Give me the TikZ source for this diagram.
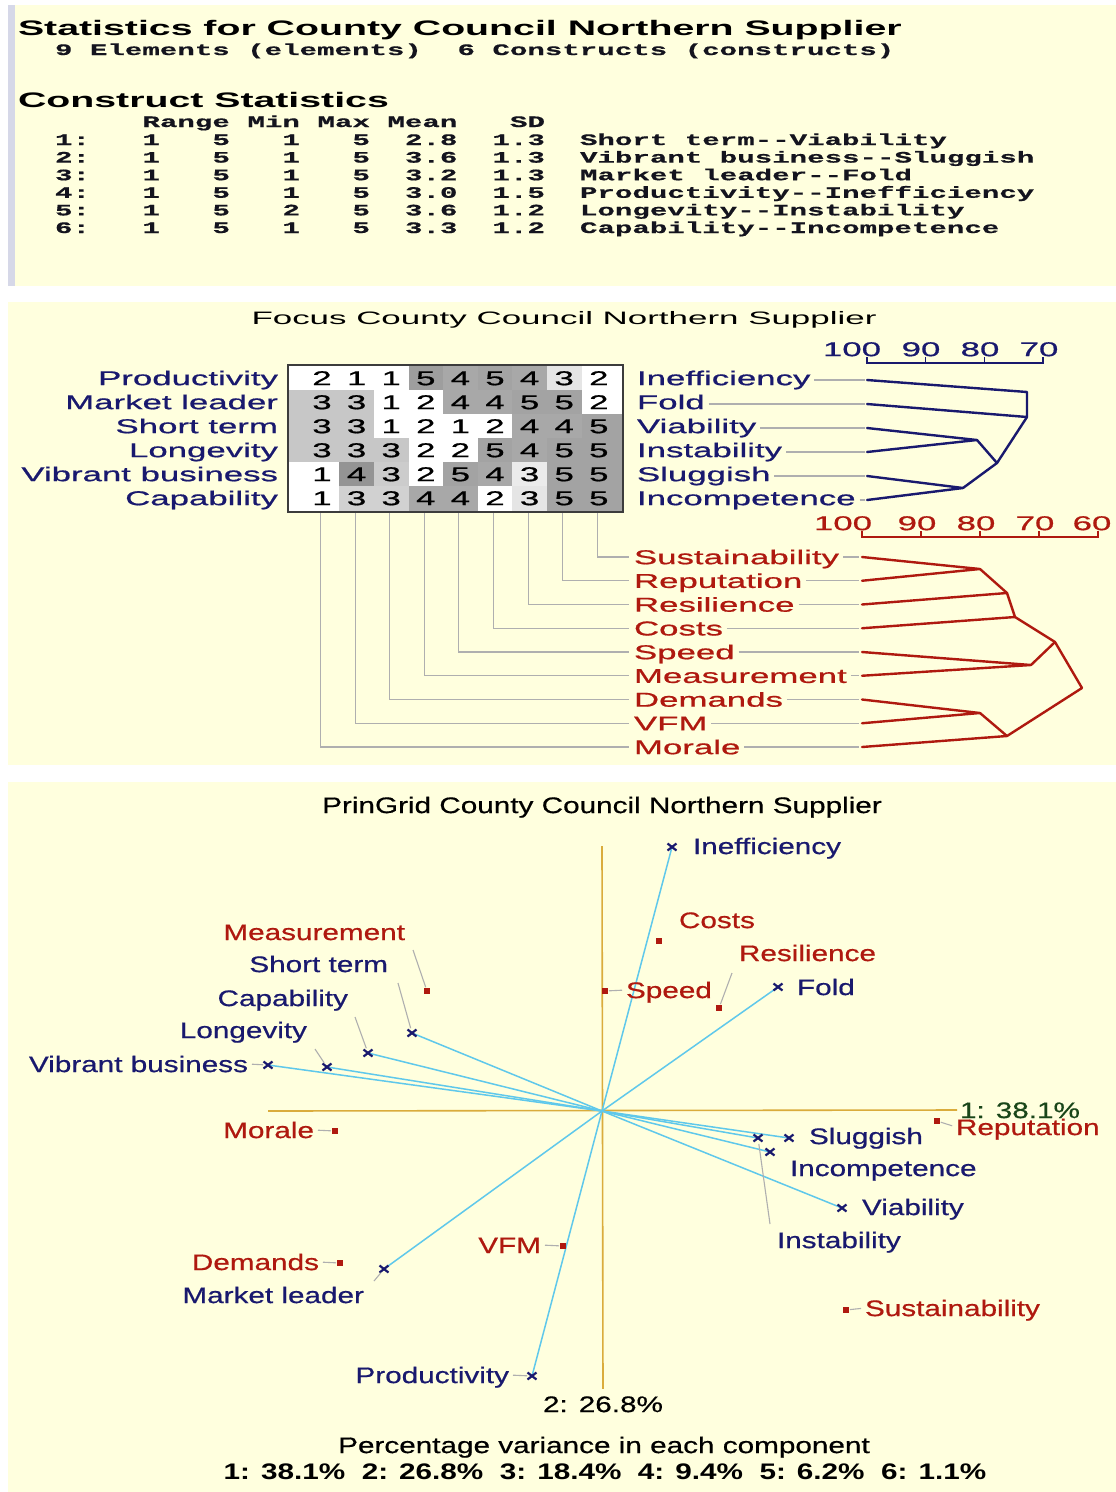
\documentclass[tikz,border=0pt]{standalone}
\usepackage{fontspec}
\usepackage{graphicx}
\usetikzlibrary{calc,shapes.misc}
\setmainfont{Liberation Sans}
\newfontfamily\headfnt{Liberation Sans}[FakeStretch=1.87]
\newfontfamily\monofnt{Liberation Mono}[FakeStretch=1.82,FakeBold=0.6]
\newfontfamily\focfnt{Liberation Sans}[FakeStretch=1.74,FakeBold=0.8]
\newfontfamily\prinfnt{Liberation Sans}[FakeStretch=1.32,FakeBold=0.6]
\newfontfamily\prinbold{Liberation Sans Bold}[FakeStretch=1.32]

\definecolor{panelbg}{RGB}{255,255,222}
\definecolor{stripe}{RGB}{214,216,232}
\definecolor{navy}{RGB}{25,25,110}
\definecolor{dred}{RGB}{175,25,15}
\definecolor{axgold}{RGB}{218,172,60}
\definecolor{vecblue}{RGB}{95,200,235}
\definecolor{leadgray}{RGB}{175,175,175}
\definecolor{gridline}{RGB}{60,60,60}
\definecolor{inkdark}{RGB}{20,20,30}
\definecolor{axgreen}{RGB}{25,70,25}

% stretch a text horizontally to a given width (in pt)
\newlength\fitlen
\newcommand\fitw[2]{\settowidth\fitlen{#2}\pgfmathsetmacro\fitratio{#1/\fitlen}\scalebox{\fitratio}[1]{#2}}

\begin{document}
\begin{tikzpicture}[x=1pt,y=-1pt,
  headtxt/.style={font=\headfnt\bfseries\fontsize{21}{25}\selectfont, text=black, inner sep=0pt, outer sep=0pt},
  monotxt/.style={font=\monofnt\bfseries\fontsize{16}{19}\selectfont, text=inkdark, inner sep=0pt, outer sep=0pt},
  focl/.style={font=\focfnt\fontsize{20}{24}\selectfont, inner sep=0pt, outer sep=0pt, text height=16.3pt, text depth=2pt},
  prinl/.style={font=\prinfnt\fontsize{22.5}{27}\selectfont, inner sep=0pt, outer sep=0pt, text height=18.1pt, text depth=2pt},
  leader/.style={draw=leadgray, line width=1.1pt},
  navyline/.style={draw=navy, line width=2.4pt, line cap=round, line join=round},
  redline/.style={draw=dred, line width=2.4pt, line cap=round, line join=round},
  vec/.style={draw=vecblue, line width=1.5pt},
  axisline/.style={draw=axgold, line width=1.6pt},
  xmark/.style={cross out, draw=navy, line width=2.2pt, minimum width=9pt, minimum height=7pt, inner sep=0pt, outer sep=0pt},
  emark/.style={fill=dred, minimum size=6pt, inner sep=0pt, outer sep=0pt},
]
\useasboundingbox (0,0) rectangle (1116,1492);

% ---------- panel backgrounds
\fill[white] (0,0) rectangle (1116,1492);
\fill[panelbg] (8,5) rectangle (1116,286);
\fill[stripe] (8,5) rectangle (15,286);
\fill[panelbg] (8,302) rectangle (1116,765);
\fill[panelbg] (8,782) rectangle (1116,1492);

% ---------- statistics panel
\node[headtxt,anchor=base west] (stattitle) at (18,35) {Statistics for County Council Northern Supplier};
\node[monotxt,anchor=base west] (nelem) at (55,55) {9 Elements (elements)};
\node[monotxt,anchor=base west] (ncons) at (457.5,55) {6 Constructs (constructs)};
\node[headtxt,anchor=base west] (cstitle) at (18,107) {Construct Statistics};
\foreach \t/\cc in {Range/7,Min/13,Max/17,Mean/21,SD/28}
  \node[monotxt,anchor=base west] (hd-\cc) at ({20+17.5*\cc},127) {\t};
\foreach \va/\vb/\vc/\vd/\vm/\vs/\vl [count=\i] in {
  1/5/1/5/2.8/1.3/{Short term-{}-Viability},
  1/5/1/5/3.6/1.3/{Vibrant business-{}-Sluggish},
  1/5/1/5/3.2/1.3/{Market leader-{}-Fold},
  1/5/1/5/3.0/1.5/{Productivity-{}-Inefficiency},
  1/5/2/5/3.6/1.2/{Longevity-{}-Instability},
  1/5/1/5/3.3/1.2/{Capability-{}-Incompetence}}
{
  \pgfmathsetmacro\yy{145+17.6*(\i-1)}
  \node[monotxt,anchor=base west] (sn-\i) at (55,\yy) {\i:};
  \node[monotxt,anchor=base west] (sa-\i) at (142.5,\yy) {\va};
  \node[monotxt,anchor=base west] (sb-\i) at (212.5,\yy) {\vb};
  \node[monotxt,anchor=base west] (sc-\i) at (282.5,\yy) {\vc};
  \node[monotxt,anchor=base west] (sd-\i) at (352.5,\yy) {\vd};
  \node[monotxt,anchor=base west] (sm-\i) at (405,\yy) {\vm};
  \node[monotxt,anchor=base west] (ss-\i) at (492.5,\yy) {\vs};
  \node[monotxt,anchor=base west] (sl-\i) at (580,\yy) {\vl};
}

% ---------- focus panel
\node[font=\fontsize{18}{22}\selectfont, inner sep=0pt, text=black] (foctitle) at (564,320)
  {\fitw{625}{Focus County Council Northern Supplier}};

\foreach \rowdata [count=\i] in {
 {2/0,1/0,1/0,5/38,4/34,5/36,4/34,3/10,2/0},
 {3/22,3/22,1/0,2/0,4/34,4/34,5/36,5/36,2/0},
 {3/22,3/22,1/0,2/0,1/0,2/0,4/34,4/34,5/36},
 {3/22,3/22,3/22,2/0,2/0,5/36,4/34,5/36,5/36},
 {1/0,4/42,3/20,2/0,5/36,4/34,3/8,5/36,5/36},
 {1/0,3/18,3/18,4/34,4/34,2/0,3/10,5/36,5/36}}
{
  \foreach \v/\sh [count=\j] in \rowdata {
    \pgfmathsetmacro\xa{{288,339.3,373.9,408.5,443.1,477.7,512.3,546.9,581.5,623}[\j-1]}
    \pgfmathsetmacro\xb{{288,339.3,373.9,408.5,443.1,477.7,512.3,546.9,581.5,623}[\j]}
    \pgfmathsetmacro\ya{{365,390,414,438,462,486,512}[\i-1]}
    \pgfmathsetmacro\yb{{365,390,414,438,462,486,512}[\i]}
    \pgfmathsetmacro\xc{322+34.6*(\j-1)}
    \pgfmathsetmacro\yc{378+24*(\i-1)}
    \fill[black!\sh] (\xa,\ya) rectangle (\xb,\yb);
    \node[focl,text=black] (cell-\i-\j) at (\xc,\yc) {\v};
  }
}
\draw[gridline, line width=1.8pt] (288,365) rectangle (623,512);

\foreach \t [count=\i] in {Productivity,Market leader,Short term,Longevity,Vibrant business,Capability}
  \node[focl,text=navy,anchor=east] (cl-\i) at (278,{378+24*(\i-1)}) {\t};
\foreach \t [count=\i] in {Inefficiency,Fold,Viability,Instability,Sluggish,Incompetence}
  \node[focl,text=navy,anchor=west] (cr-\i) at (637,{378+24*(\i-1)}) {\t};

% construct tree
\foreach \i in {1,...,6} \coordinate (tl-\i) at (867,{380+24*(\i-1)});
\foreach \i in {1,...,6} \draw[leader,shorten <=4pt,shorten >=2pt] (cr-\i.east |- tl-\i) -- (tl-\i);
\coordinate (tdA) at (1027,392);
\coordinate (tdB) at (1027,417);
\coordinate (tdVI) at (977,440);
\coordinate (tdSI) at (963,488);
\coordinate (tdM) at (997,463);
\draw[navyline] (tl-1) -- (tdA) -- (tdB) -- (tl-2);
\draw[navyline] (tl-3) -- (tdVI) -- (tl-4);
\draw[navyline] (tl-5) -- (tdSI) -- (tl-6);
\draw[navyline] (tdVI) -- (tdM) -- (tdSI);
\draw[navyline] (tdM) -- (tdB);
% construct scale
\draw[navy, line width=1.5pt] (867,357) -- (867,363) -- (1043,363) -- (1043,357);
\draw[navy, line width=1.5pt] (925.7,363) -- (925.7,357) (984.3,363) -- (984.3,357);
\node[focl,text=navy] (tn100) at (852,349) {100};
\node[focl,text=navy] (tn90) at (921,349) {90};
\node[focl,text=navy] (tn80) at (980,349) {80};
\node[focl,text=navy] (tn70) at (1039,349) {70};

% element labels and links to the grid columns
\foreach \t [count=\k] in {Sustainability,Reputation,Resilience,Costs,Speed,Measurement,Demands,VFM,Morale}
{
  \pgfmathsetmacro\ye{557+23.75*(\k-1)}
  \pgfmathsetmacro\xg{320.5+34.6*(9-\k)}
  \node[focl,text=dred,anchor=west] (el-\k) at (634,\ye) {\t};
  \coordinate (gb-\k) at (\xg,513);
  \coordinate (bl-\k) at (862,\ye);
  \draw[leader,shorten >=5pt] (gb-\k) |- (el-\k.west);
  \draw[leader,shorten <=4pt,shorten >=3pt] (el-\k.east |- bl-\k) -- (bl-\k);
}
% element tree
\coordinate (bA) at (980,569);
\coordinate (bB) at (1007,593);
\coordinate (bC) at (1015,617);
\coordinate (bD) at (1031,665);
\coordinate (bE) at (1055,642);
\coordinate (bF) at (980,713);
\coordinate (bG) at (1007,736);
\coordinate (bR) at (1082,688);
\draw[redline] (bl-1) -- (bA) -- (bl-2);
\draw[redline] (bA) -- (bB) -- (bC) -- (bE) -- (bR) -- (bG) -- (bF);
\draw[redline] (bl-3) -- (bB);
\draw[redline] (bl-4) -- (bC);
\draw[redline] (bl-5) -- (bD) -- (bl-6);
\draw[redline] (bD) -- (bE);
\draw[redline] (bl-7) -- (bF) -- (bl-8);
\draw[redline] (bl-9) -- (bG);
% element scale
\draw[dred, line width=1.5pt] (862,531) -- (862,537) -- (1098,537) -- (1098,531);
\draw[dred, line width=1.5pt] (921,537) -- (921,531) (980,537) -- (980,531) (1039,537) -- (1039,531);
\node[focl,text=dred] (bn100) at (843,523) {100};
\node[focl,text=dred] (bn90) at (917,523) {90};
\node[focl,text=dred] (bn80) at (976,523) {80};
\node[focl,text=dred] (bn70) at (1035,523) {70};
\node[focl,text=dred] (bn60) at (1092,523) {60};

% ---------- principal components panel
\node[prinl,text=black] (ptitle) at (602,805) {PrinGrid County Council Northern Supplier};
\coordinate (O) at (602,1111);
\coordinate (axL) at (268,1111);
\coordinate (axT) at (602,846);
\node[prinl,text=axgreen,anchor=west] (ax1) at (960,1110) {1: 38.1\%};
\node[prinl,text=black] (ax2) at (603,1404) {2: 26.8\%};
\draw[axisline,shorten >=3pt] (axL) -- (ax1.west);
\draw[axisline,shorten >=5pt] (axT) -- (ax2.north);

% construct poles
\coordinate (pIneff) at (672,847);
\coordinate (pFold) at (778,987);
\coordinate (pSlug) at (789,1138);
\coordinate (pInst) at (758,1138);
\coordinate (pInc) at (770,1152);
\coordinate (pVia) at (842,1208);
\coordinate (pProd) at (532,1376);
\coordinate (pMkt) at (384,1269);
\coordinate (pVib) at (268,1065);
\coordinate (pLong) at (327,1067);
\coordinate (pCap) at (368,1053);
\coordinate (pShort) at (412,1033);
\foreach \p in {pIneff,pFold,pSlug,pInst,pInc,pVia,pProd,pMkt,pVib,pLong,pCap,pShort}
  \draw[vec] (O) -- (\p);
\foreach \p in {Ineff,Fold,Slug,Inst,Inc,Via,Prod,Mkt,Vib,Long,Cap,Short}
  \node[xmark] (m\p) at (p\p) {};

% elements
\node[emark] (mCosts) at (659,941) {};
\node[emark] (mRes) at (719,1008) {};
\node[emark] (mSpeed) at (605,991) {};
\node[emark] (mMeas) at (427,991) {};
\node[emark] (mMorale) at (335,1131) {};
\node[emark] (mRep) at (937,1121) {};
\node[emark] (mSust) at (846,1310) {};
\node[emark] (mVFM) at (563,1246) {};
\node[emark] (mDem) at (340,1263) {};

% labels
\node[prinl,text=navy,anchor=west] (lIneff) at (693,846) {Inefficiency};
\node[prinl,text=dred,anchor=west] (lCosts) at (679,920) {Costs};
\node[prinl,text=dred,anchor=west] (lRes) at (739,953) {Resilience};
\node[prinl,text=navy,anchor=west] (lFold) at (797,987) {Fold};
\node[prinl,text=dred,anchor=west] (lSpeed) at (626,990) {Speed};
\node[prinl,text=dred,anchor=east] (lMeas) at (405,932) {Measurement};
\node[prinl,text=navy,anchor=east] (lShort) at (388,964) {Short term};
\node[prinl,text=navy,anchor=east] (lCap) at (348,998) {Capability};
\node[prinl,text=navy,anchor=east] (lLong) at (307,1030) {Longevity};
\node[prinl,text=navy,anchor=east] (lVib) at (248,1064) {Vibrant business};
\node[prinl,text=dred,anchor=east] (lMorale) at (314,1130) {Morale};
\node[prinl,text=navy,anchor=west] (lSlug) at (809,1136) {Sluggish};
\node[prinl,text=dred,anchor=west] (lRep) at (956,1127) {Reputation};
\node[prinl,text=navy,anchor=west] (lInc) at (790,1168) {Incompetence};
\node[prinl,text=navy,anchor=west] (lVia) at (862,1207) {Viability};
\node[prinl,text=navy,anchor=west] (lInst) at (777,1240) {Instability};
\node[prinl,text=dred,anchor=east] (lVFM) at (541,1245) {VFM};
\node[prinl,text=dred,anchor=east] (lDem) at (319,1262) {Demands};
\node[prinl,text=navy,anchor=east] (lMkt) at (364,1295) {Market leader};
\node[prinl,text=dred,anchor=west] (lSust) at (865,1308) {Sustainability};
\node[prinl,text=navy,anchor=east] (lProd) at (509,1375) {Productivity};

% label leaders
\coordinate (qMeas) at (413,950);
\coordinate (qShort) at (398,983);
\coordinate (qCap) at (355,1017);
\coordinate (qLong) at (315,1049);
\coordinate (qRes) at (732,973);
\coordinate (qInst) at (770,1224);
\coordinate (qMkt) at (374,1281);
\draw[leader,shorten >=4pt] (qMeas) -- (mMeas.center);
\draw[leader,shorten >=5pt] (qShort) -- (mShort.center);
\draw[leader,shorten >=5pt] (qCap) -- (mCap.center);
\draw[leader,shorten >=5pt] (qLong) -- (mLong.center);
\draw[leader,shorten >=4pt] (qRes) -- (mRes.center);
\draw[leader,shorten >=6pt] (qInst) -- (mInst.center);
\draw[leader,shorten >=5pt] (qMkt) -- (mMkt.center);
\draw[leader,shorten <=4pt,shorten >=4pt] (lMorale.east) -- (mMorale.center);
\draw[leader,shorten <=4pt,shorten >=4pt] (lDem.east) -- (mDem.center);
\draw[leader,shorten <=4pt,shorten >=4pt] (lVFM.east) -- (mVFM.center);
\draw[leader,shorten <=4pt,shorten >=5pt] (lProd.east) -- (mProd.center);
\draw[leader,shorten <=4pt,shorten >=5pt] (lVib.east) -- (mVib.center);
\draw[leader,shorten <=4pt,shorten >=4pt] (mSpeed.center) -- (lSpeed.west);
\draw[leader,shorten <=4pt,shorten >=4pt] (mRep.center) -- (lRep.west);
\draw[leader,shorten <=4pt,shorten >=4pt] (mSust.center) -- (lSust.west);

% variance summary
\node[prinl,text=black] (pvar) at (604,1445) {Percentage variance in each component};
\node[prinl,text=black,font=\prinbold\fontsize{22.5}{27}\selectfont] (pvals) at (605,1471)
  {1: 38.1\%~~2: 26.8\%~~3: 18.4\%~~4: 9.4\%~~5: 6.2\%~~6: 1.1\%};
\end{tikzpicture}
\end{document}
